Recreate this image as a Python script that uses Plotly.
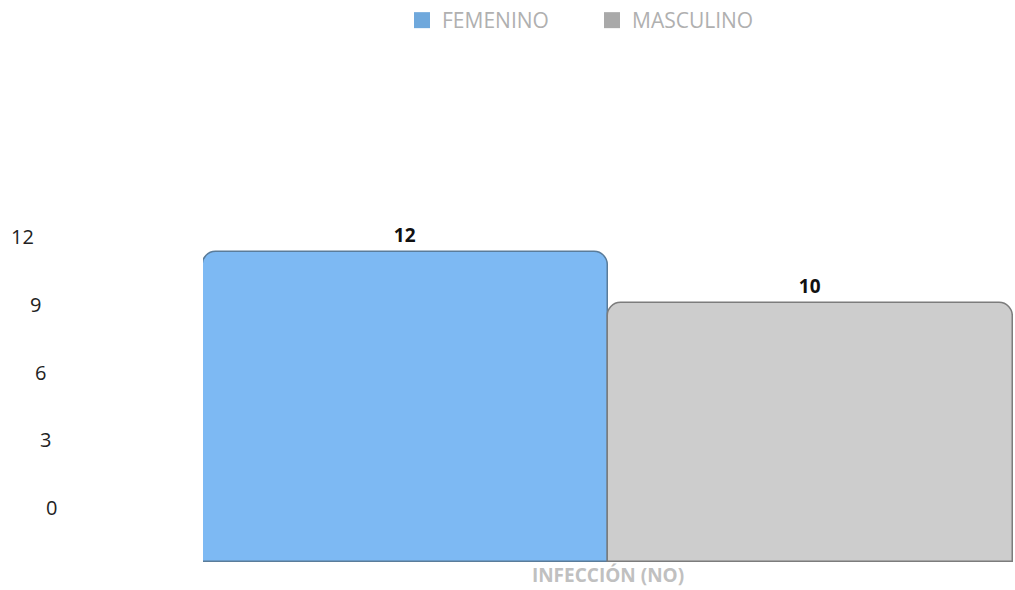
import plotly.graph_objects as go

categories = ["INFECCIÓN (NO)"]
series_names = ["FEMENINO", "MASCULINO"]
femenino = [12]
masculino = [10]
tick_values = [0, 3, 6, 9, 12]
tick_labels = ["0", "3", "6", "9", "12"]

colors = ["#7db9f3", "#cdcdcd"]
edge_colors = ["#5a7c9a", "#7c7c7c"]
legend_colors = ["#6fa8dc", "#a9a9a9"]

fig = go.Figure()
for name, vals, c, e in zip(series_names, [femenino, masculino], colors, edge_colors):
    fig.add_trace(go.Bar(
        x=categories, y=vals, name=name, showlegend=False,
        marker=dict(color=c, line=dict(color=e, width=1.5), cornerradius=14),
        text=[str(v) for v in vals], textposition="outside",
        textfont=dict(family="Open Sans", size=19, color="#111111", weight="bold"),
        cliponaxis=False,
    ))
# legend-only entries with square swatches
for name, lc in zip(series_names, legend_colors):
    fig.add_trace(go.Scatter(
        x=[None], y=[None], mode="markers", name=name,
        marker=dict(symbol="square", size=20, color=lc),
    ))

# slanted tick labels (3D-like perspective in the reference)
tick_x = [51, 45, 40, 35, 22]
annotations = []
for v, lab, px in zip(tick_values, tick_labels, tick_x):
    annotations.append(dict(
        x=(px - 203) / 810, xref="paper", y=v, yref="y2",
        text=lab, showarrow=False, xanchor="center", yanchor="middle",
        font=dict(family="Open Sans", size=20, color="#222222"),
    ))

fig.update_layout(
    width=1015, height=590,
    margin=dict(l=203, r=2, t=200, b=25),
    paper_bgcolor="white", plot_bgcolor="white",
    barmode="group", bargap=0, bargroupgap=0,
    showlegend=True,
    legend=dict(orientation="h", xref="container", yref="container",
                x=402 / 1015, y=1.0, xanchor="left", yanchor="top",
                font=dict(family="Open Sans", size=21, color="#b0b0b0"),
                itemsizing="trace", entrywidth=145, traceorder="normal"),
    xaxis=dict(showgrid=False, showline=False, ticks="", ticklabelstandoff=0,
               tickfont=dict(family="Open Sans", size=19, color="#c0c0c0", weight="bold")),
    yaxis=dict(range=[0, 14], showgrid=False, showline=False, zeroline=False,
               showticklabels=False, ticks=""),
    yaxis2=dict(range=[-2.42, 13.63], overlaying="y", visible=False),
    annotations=annotations,
)

fig.write_html("out.html")
